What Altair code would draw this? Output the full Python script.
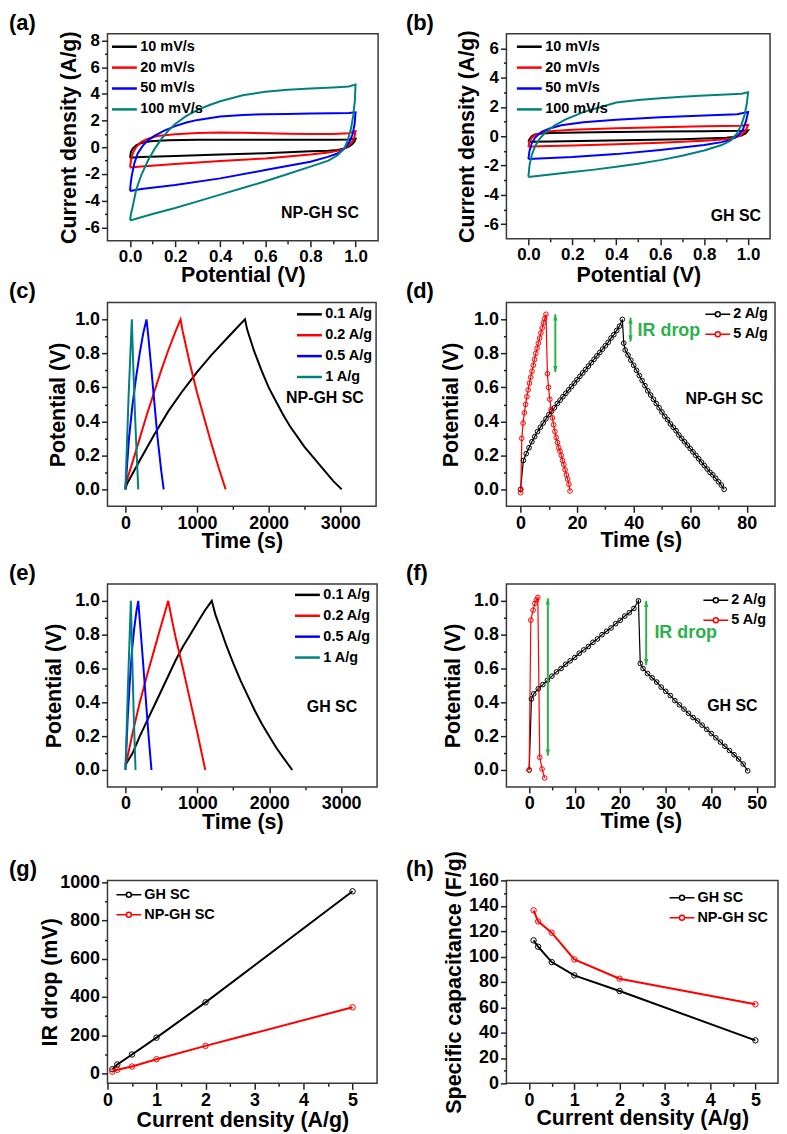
import altair as alt
import pandas as pd

FONT = "Liberation Sans"
BLACK, RED, BLUE, TEAL, GREEN = "#000000", "#FF0000", "#0000FF", "#008080", "#2AB24A"
TICK = "#222222"

# ---------------- (a) NP-GH SC cyclic voltammetry ----------------
a_names = ["10 mV/s", "20 mV/s", "50 mV/s", "100 mV/s"]
a10_x = [0, 0.004, 0.012, 0.027, 0.05, 0.09, 0.17, 0.3, 0.5, 0.7, 0.9, 0.97, 1.0, 0.995, 0.985, 0.97, 0.95, 0.92, 0.88, 0.8, 0.6, 0.4, 0.2, 0.05, 0]
a10_y = [-0.79, -0.35, -0.1, 0.15, 0.32, 0.45, 0.52, 0.56, 0.56, 0.56, 0.57, 0.59, 0.64, 0.42, 0.22, 0.05, -0.1, -0.2, -0.26, -0.3, -0.45, -0.55, -0.65, -0.73, -0.79]
a20_x = [0, 0.002, 0.005, 0.012, 0.027, 0.05, 0.08, 0.12, 0.2, 0.3, 0.4, 0.5, 0.6, 0.7, 0.8, 0.9, 0.97, 1.0, 0.995, 0.985, 0.97, 0.95, 0.92, 0.88, 0.8, 0.6, 0.4, 0.2, 0.05, 0]
a20_y = [-1.51, -1.25, -0.9, -0.45, 0.02, 0.4, 0.64, 0.84, 0.97, 1.06, 1.1, 1.09, 1.05, 1.02, 1.0, 1.0, 1.05, 1.2, 0.75, 0.4, 0.15, -0.1, -0.27, -0.4, -0.55, -0.84, -1.02, -1.26, -1.44, -1.51]
a50_x = [0, 0.003, 0.007, 0.019, 0.034, 0.056, 0.078, 0.108, 0.152, 0.2, 0.25, 0.3, 0.4, 0.5, 0.6, 0.7, 0.8, 0.9, 0.97, 1.0, 0.996, 0.988, 0.973, 0.951, 0.92, 0.877, 0.8, 0.6, 0.4, 0.2, 0.05, 0]
a50_y = [-3.27, -2.7, -2.2, -1.22, -0.47, 0.1, 0.5, 0.85, 1.25, 1.58, 1.85, 2.05, 2.3, 2.42, 2.48, 2.5, 2.53, 2.55, 2.57, 2.62, 1.76, 1.01, 0.4, -0.1, -0.47, -0.72, -1.09, -1.71, -2.33, -2.83, -3.12, -3.27]
a100_x = [0, 0.004, 0.012, 0.027, 0.05, 0.08, 0.11, 0.14, 0.17, 0.2, 0.25, 0.3, 0.35, 0.4, 0.5, 0.6, 0.7, 0.8, 0.9, 0.97, 1.0, 0.997, 0.99, 0.98, 0.965, 0.95, 0.92, 0.88, 0.8, 0.7, 0.6, 0.5, 0.4, 0.3, 0.2, 0.1, 0]
a100_y = [-5.48, -5.0, -4.44, -3.2, -2.08, -0.97, -0.1, 0.65, 1.25, 1.75, 2.35, 2.8, 3.15, 3.45, 3.9, 4.15, 4.3, 4.4, 4.48, 4.55, 4.7, 3.5, 2.4, 1.4, 0.5, -0.1, -0.6, -1.0, -1.45, -2.0, -2.55, -3.05, -3.55, -4.05, -4.55, -5.0, -5.48]

# ---------------- (b) GH SC cyclic voltammetry ----------------
b10_x = [0, 0.005, 0.015, 0.03, 0.06, 0.1, 0.3, 0.6, 0.8, 0.97, 1.0, 0.99, 0.97, 0.93, 0.9, 0.7, 0.5, 0.3, 0.1, 0]
b10_y = [-0.37, -0.2, 0.0, 0.12, 0.18, 0.22, 0.27, 0.32, 0.35, 0.37, 0.4, 0.2, 0.05, -0.05, -0.1, -0.2, -0.25, -0.3, -0.35, -0.37]
b20_x = [0, 0.005, 0.015, 0.03, 0.06, 0.1, 0.2, 0.4, 0.6, 0.8, 0.97, 1.0, 0.99, 0.97, 0.94, 0.9, 0.8, 0.6, 0.4, 0.2, 0.05, 0]
b20_y = [-0.71, -0.4, -0.1, 0.1, 0.25, 0.35, 0.45, 0.55, 0.62, 0.68, 0.72, 0.78, 0.4, 0.1, -0.1, -0.2, -0.3, -0.45, -0.55, -0.63, -0.69, -0.71]
b50_x = [0, 0.005, 0.015, 0.03, 0.06, 0.1, 0.15, 0.25, 0.4, 0.6, 0.8, 0.95, 1.0, 0.99, 0.975, 0.95, 0.92, 0.88, 0.8, 0.6, 0.4, 0.2, 0.05, 0]
b50_y = [-1.56, -1.0, -0.5, -0.1, 0.3, 0.55, 0.75, 0.95, 1.13, 1.3, 1.42, 1.5, 1.65, 1.0, 0.4, 0.0, -0.25, -0.4, -0.6, -0.94, -1.22, -1.42, -1.52, -1.56]
b100_x = [0, 0.005, 0.015, 0.03, 0.05, 0.08, 0.12, 0.17, 0.25, 0.33, 0.4, 0.5, 0.6, 0.7, 0.8, 0.9, 0.97, 1.0, 0.995, 0.985, 0.97, 0.95, 0.92, 0.88, 0.8, 0.7, 0.6, 0.5, 0.4, 0.3, 0.2, 0.1, 0]
b100_y = [-2.78, -2.0, -1.3, -0.7, -0.2, 0.3, 0.75, 1.15, 1.65, 2.0, 2.3, 2.47, 2.6, 2.7, 2.78, 2.85, 2.9, 3.0, 2.3, 1.5, 0.8, 0.2, -0.3, -0.6, -0.97, -1.33, -1.63, -1.88, -2.09, -2.28, -2.44, -2.62, -2.78]

# ---------------- (c) NP-GH SC charge/discharge ----------------
gcd_names = ["0.1 A/g", "0.2 A/g", "0.5 A/g", "1 A/g"]
c01_x = [0, 20, 200, 400, 600, 800, 1000, 1200, 1400, 1600, 1670, 1700, 1800, 1900, 2000, 2100, 2200, 2300, 2400, 2500, 2600, 2700, 2800, 2900, 3020]
c01_y = [0.0, 0.03, 0.17, 0.32, 0.46, 0.58, 0.69, 0.79, 0.88, 0.97, 1.0, 0.94, 0.81, 0.7, 0.6, 0.52, 0.44, 0.37, 0.31, 0.25, 0.2, 0.15, 0.1, 0.05, 0.0]
c02_x = [0, 10, 100, 200, 300, 400, 500, 600, 700, 770, 800, 900, 1000, 1100, 1200, 1300, 1400]
c02_y = [0.0, 0.04, 0.16, 0.3, 0.44, 0.57, 0.7, 0.82, 0.93, 1.0, 0.93, 0.74, 0.57, 0.42, 0.27, 0.13, 0.0]
c05_x = [0, 50, 100, 150, 200, 250, 295, 320, 360, 400, 450, 500, 535]
c05_y = [0, 0.3, 0.5, 0.66, 0.8, 0.92, 1.0, 0.9, 0.72, 0.53, 0.3, 0.11, 0.0]
c1_x = [0, 45, 90, 110, 140, 180]
c1_y = [0, 0.55, 1.0, 0.72, 0.38, 0.0]

# ---------------- (e) GH SC charge/discharge ----------------
e01_x = [0, 100, 200, 300, 400, 500, 600, 700, 800, 900, 1000, 1100, 1200, 1250, 1300, 1400, 1500, 1600, 1700, 1800, 1900, 2000, 2100, 2200, 2320]
e01_y = [0.03, 0.1, 0.2, 0.29, 0.38, 0.47, 0.56, 0.65, 0.73, 0.8, 0.87, 0.94, 1.0, 0.92, 0.86, 0.74, 0.63, 0.53, 0.44, 0.35, 0.27, 0.2, 0.13, 0.07, 0.0]
e02_x = [0, 50, 100, 200, 300, 400, 500, 595, 650, 700, 800, 900, 1000, 1110]
e02_y = [0.02, 0.12, 0.22, 0.4, 0.56, 0.71, 0.86, 1.0, 0.88, 0.78, 0.6, 0.41, 0.22, 0.0]
e05_x = [0, 30, 60, 90, 120, 150, 178, 200, 230, 260, 290, 320, 362]
e05_y = [0, 0.3, 0.52, 0.7, 0.83, 0.93, 1.0, 0.88, 0.72, 0.55, 0.38, 0.21, 0.0]
e1_x = [0, 35, 75, 95, 115, 140]
e1_y = [0, 0.5, 1.0, 0.65, 0.33, 0.0]

# ---------------- (d) NP-GH SC at 2 and 5 A/g ----------------
hi_names = ["2 A/g", "5 A/g"]
d2_t = [0, 1, 2, 3, 4, 5, 6, 7, 8, 9, 10, 11, 12, 13, 14, 15, 16, 17, 18, 19, 20, 21, 22, 23, 24, 25, 26, 27, 28, 29, 30, 31, 32, 33, 34, 35, 36,
        36.5, 37, 38, 39, 40, 41, 42, 43, 44, 45, 46, 47, 48, 49, 50, 51, 52, 53, 54, 55, 56, 57, 58, 59, 60, 61, 62, 63, 64, 65, 66, 67, 68, 69, 70, 71, 72]
d2_v = [0.0, 0.17, 0.21, 0.245, 0.28, 0.31, 0.34, 0.365, 0.39, 0.415, 0.44, 0.46, 0.48, 0.505, 0.525, 0.545, 0.565, 0.585, 0.605, 0.625,
        0.645, 0.665, 0.685, 0.705, 0.725, 0.745, 0.765, 0.785, 0.805, 0.825, 0.845, 0.865, 0.89, 0.91, 0.935, 0.96, 1.0,
        0.86, 0.82, 0.79, 0.76, 0.73, 0.7, 0.67, 0.64, 0.61, 0.58, 0.555, 0.53, 0.505, 0.48, 0.455, 0.43, 0.41, 0.385, 0.365, 0.345, 0.32,
        0.3, 0.28, 0.26, 0.24, 0.22, 0.2, 0.18, 0.16, 0.14, 0.12, 0.1, 0.085, 0.065, 0.045, 0.025, 0.0]
d5_t = [0, 0.1, 0.45, 0.9, 1.35, 1.8, 2.25, 2.7, 3.15, 3.6, 4.05, 4.5, 4.95, 5.4, 5.85, 6.3, 6.75, 7.2, 7.65, 8.1, 8.55, 9.0,
        9.5, 9.9, 10.35, 10.8, 11.25, 11.7, 12.15, 12.6, 13.05, 13.5, 13.95, 14.4, 14.85, 15.3, 15.75, 16.2, 16.65, 17.1, 17.5]
d5_v = [-0.02, 0.0, 0.3, 0.39, 0.45, 0.5, 0.545, 0.585, 0.625, 0.66, 0.695, 0.73, 0.765, 0.8, 0.83, 0.86, 0.89, 0.92, 0.95, 0.98, 1.005, 1.03,
        0.68, 0.6, 0.53, 0.47, 0.42, 0.38, 0.34, 0.305, 0.275, 0.245, 0.225, 0.2, 0.17, 0.145, 0.115, 0.085, 0.06, 0.03, -0.01]

# ---------------- (f) GH SC at 2 and 5 A/g ----------------
f2_t = [0, 0.5, 1, 2, 3, 4, 5, 6, 7, 8, 9, 10, 11, 12, 13, 14, 15, 16, 17, 18, 19, 20, 21, 22, 23, 24,
        24.4, 25, 26, 27, 28, 29, 30, 31, 32, 33, 34, 35, 36, 37, 38, 39, 40, 41, 42, 43, 44, 45, 46, 47, 48]
f2_v = [0.0, 0.42, 0.45, 0.48, 0.505, 0.53, 0.555, 0.58, 0.6, 0.625, 0.645, 0.665, 0.69, 0.71, 0.73, 0.755, 0.775, 0.8, 0.82, 0.84,
        0.865, 0.885, 0.91, 0.93, 0.955, 1.0,
        0.63, 0.6, 0.57, 0.545, 0.52, 0.49, 0.465, 0.44, 0.41, 0.385, 0.36, 0.335, 0.31, 0.29, 0.265, 0.24, 0.215, 0.19, 0.165, 0.14,
        0.115, 0.09, 0.065, 0.035, -0.005]
f5_t = [0, 0.36, 0.87, 1.25, 1.6, 1.9, 2.32, 2.83, 3.4]
f5_v = [0.0, 0.886, 0.945, 0.985, 1.005, 1.02, 0.075, 0.006, -0.047]

# ---------------- (g) IR drop, (h) specific capacitance ----------------
sc_names = ["GH SC", "NP-GH SC"]
density = [0.1, 0.2, 0.5, 1, 2, 5]
ir_gh = [22, 47, 99, 187, 372, 953]
ir_np = [9, 19, 36, 74, 144, 346]
cap_gh = [112.7, 107.7, 95.6, 85.1, 72.8, 33.9]
cap_np = [136.4, 127.7, 118.8, 97.7, 82.5, 62.3]

# double-headed "IR drop" arrows: (x, y_bottom, y_top)
arrows_d = [(12.3, 0.69, 1.03), (38.9, 0.87, 1.01)]
arrows_f = [(4.1, 0.085, 1.015), (25.7, 0.62, 1.0)]

# axis tick positions (major + minor)
x_tenths = [0.0, 0.1, 0.2, 0.3, 0.4, 0.5, 0.6, 0.7, 0.8, 0.9, 1.0]
y_a_vals = [-6, -5, -4, -3, -2, -1, 0, 1, 2, 3, 4, 5, 6, 7, 8]
y_b_vals = [-6, -5, -4, -3, -2, -1, 0, 1, 2, 3, 4, 5, 6]
x_ce_vals = [0, 500, 1000, 1500, 2000, 2500, 3000]
x_d_vals = [0, 10, 20, 30, 40, 50, 60, 70, 80]
x_f_vals = [0, 5, 10, 15, 20, 25, 30, 35, 40, 45, 50]
x_gh_vals = [0, 0.5, 1, 1.5, 2, 2.5, 3, 3.5, 4, 4.5, 5]
y_g_vals = [0, 100, 200, 300, 400, 500, 600, 700, 800, 900, 1000]
y_h_vals = [0, 10, 20, 30, 40, 50, 60, 70, 80, 90, 100, 110, 120, 130, 140, 150, 160]


def long_df(names, xs_list, ys_list):
    rows = []
    for name, xs, ys in zip(names, xs_list, ys_list):
        for i, (x, y) in enumerate(zip(xs, ys)):
            rows.append({"x": x, "y": y, "s": name, "o": i})
    return pd.DataFrame(rows)


def axis(values, minor, label, title, lsize, tx=None, ty=None):
    kw = dict(values=values, tickCount=1000, title=title, labelExpr=label,
              labelFontSize={"condition": {"test": minor, "value": 0}, "value": lsize},
              tickSize={"condition": {"test": minor, "value": 3}, "value": 6},
              labelOverlap=False, labelFlush=False, grid=False, domain=False)
    if tx is not None:
        kw["titleX"] = tx
    if ty is not None:
        kw["titleY"] = ty
    return alt.Axis(**kw)


TENTH_MINOR = "abs(round(datum.value*10)) % 2 == 1"
TENTH_LABEL = "abs(round(datum.value*10)) % 2 == 0 ? format(datum.value, '.1f') : ''"


def int_minor(step):
    return f"abs(datum.value) % {step} != 0"


def int_label(step):
    return f"abs(datum.value) % {step} == 0 ? '' + datum.value : ''"


def legend(lx, ly, sym):
    return alt.Legend(title=None, orient="none", legendX=lx, legendY=ly, symbolType=sym,
                      symbolSize=625, symbolStrokeWidth=2.5 if sym == "stroke" else 1.5,
                      labelFont=FONT, labelFontWeight="bold", labelFontSize=14.5, labelColor="black",
                      labelOffset=2, rowPadding=0, padding=0, symbolOffset=0)


LINE_CIRCLE = "M-1,0L-0.2,0M0.2,0L1,0M0.2,0A0.2,0.2,0,1,1,-0.2,0A0.2,0.2,0,1,1,0.2,0"


def panel_label(txt, dx):
    return alt.Chart(pd.DataFrame({"t": [txt]})).mark_text(
        font=FONT, fontWeight="bold", fontSize=22, align="left", baseline="top", color="black"
    ).encode(x=alt.value(dx), y=alt.value(-21), text="t:N")


def note(x, y, txt, xs, ys, size=16, color="black"):
    df = pd.DataFrame({"x": [x], "y": [y], "t": [txt]})
    return alt.Chart(df).mark_text(font=FONT, fontWeight="bold", fontSize=size, color=color,
                                   align="left", baseline="middle").encode(
        x=alt.X("x:Q", scale=xs), y=alt.Y("y:Q", scale=ys), text="t:N")


def arrows(spec, xs, ys):
    df = pd.DataFrame({"x": [a[0] for a in spec], "y": [a[1] for a in spec], "y2": [a[2] for a in spec]})
    rule = alt.Chart(df).mark_rule(color=GREEN, strokeWidth=2).encode(
        x=alt.X("x:Q", scale=xs), y=alt.Y("y:Q", scale=ys), y2="y2:Q")
    up = alt.Chart(df).mark_point(shape="M0,-1L0.7,1L-0.7,1Z", filled=True, size=40, color=GREEN, opacity=1,
                                  yOffset=3).encode(x=alt.X("x:Q", scale=xs), y=alt.Y("y2:Q", scale=ys))
    dn = alt.Chart(df).mark_point(shape="M0,1L0.7,-1L-0.7,-1Z", filled=True, size=40, color=GREEN, opacity=1,
                                  yOffset=-3).encode(x=alt.X("x:Q", scale=xs), y=alt.Y("y:Q", scale=ys))
    return [rule, up, dn]


def line_panel(df, names, colors, xs, ys, xax, yax, leg, w, h, extra, label, dx, points=False, sw=2, psize=22):
    color = alt.Color("s:N", scale=alt.Scale(domain=names, range=colors), legend=leg)
    base = alt.Chart(df).encode(
        x=alt.X("x:Q", scale=xs, axis=xax),
        y=alt.Y("y:Q", scale=ys, axis=yax),
        color=color, order="o:Q")
    layers = [base.mark_line(strokeWidth=sw)]
    if points:
        layers.append(base.mark_point(filled=False, size=psize, strokeWidth=1, opacity=1))
    layers += extra
    layers.append(panel_label(label, dx))
    return alt.layer(*layers).properties(width=w, height=h)


def spacer(h):
    return alt.Chart(pd.DataFrame({"v": [0]})).mark_point(opacity=0).encode(
        x=alt.value(0), y=alt.value(0)
    ).properties(width=1, height=h, view=alt.ViewBackground(strokeOpacity=0))


# ---------- panels a, b ----------
xs_ab = alt.Scale(domain=[-0.1, 1.1], nice=False, zero=False)
ys_a = alt.Scale(domain=[-7, 8.5], nice=False, zero=False)
ys_b = alt.Scale(domain=[-7, 7], nice=False, zero=False)
cv_colors = [BLACK, RED, BLUE, TEAL]

df_a = long_df(a_names, [a10_x, a20_x, a50_x, a100_x], [a10_y, a20_y, a50_y, a100_y])
pa = line_panel(df_a, a_names, cv_colors, xs_ab, ys_a,
                axis(x_tenths, TENTH_MINOR, TENTH_LABEL, "Potential (V)", 17, ty=24),
                axis(y_a_vals, int_minor(2), int_label(2), "Current density (A/g)", 17, tx=-27),
                legend(3, -1, "stroke"), 272, 208,
                [note(0.67, -4.93, "NP-GH SC", xs_ab, ys_a)], "(a)", -99)

df_b = long_df(a_names, [b10_x, b20_x, b50_x, b100_x], [b10_y, b20_y, b50_y, b100_y])
pb = line_panel(df_b, a_names, cv_colors, xs_ab, ys_b,
                axis(x_tenths, TENTH_MINOR, TENTH_LABEL, "Potential (V)", 17, ty=26),
                axis(y_b_vals, int_minor(2), int_label(2), "Current density (A/g)", 17, tx=-28),
                legend(9, -1, "stroke"), 265, 206,
                [note(0.83, -5.43, "GH SC", xs_ab, ys_b)], "(b)", -101)

# ---------- panels c, e ----------
xs_ce = alt.Scale(domain=[-250, 3500], nice=False, zero=False)
ys_v = alt.Scale(domain=[-0.1, 1.1], nice=False, zero=False)
gcd_colors = [BLACK, RED, BLUE, TEAL]

df_c = long_df(gcd_names, [c01_x, c02_x, c05_x, c1_x], [c01_y, c02_y, c05_y, c1_y])
pc = line_panel(df_c, gcd_names, gcd_colors, xs_ce, ys_v,
                axis(x_ce_vals, int_minor(1000), int_label(1000), "Time (s)", 18, ty=24),
                axis(x_tenths, TENTH_MINOR, TENTH_LABEL, "Potential (V)", 18, tx=-38),
                legend(189, -2, "stroke"), 270, 205,
                [note(2243, 0.54, "NP-GH SC", xs_ce, ys_v)], "(c)", -99)

df_e = long_df(gcd_names, [e01_x, e02_x, e05_x, e1_x], [e01_y, e02_y, e05_y, e1_y])
pe = line_panel(df_e, gcd_names, gcd_colors, xs_ce, ys_v,
                axis(x_ce_vals, int_minor(1000), int_label(1000), "Time (s)", 18, ty=25),
                axis(x_tenths, TENTH_MINOR, TENTH_LABEL, "Potential (V)", 18, tx=-42),
                legend(187, -3, "stroke"), 271, 204,
                [note(2522, 0.37, "GH SC", xs_ce, ys_v)], "(e)", -99)

# ---------- panels d, f ----------
xs_d = alt.Scale(domain=[-5, 90], nice=False, zero=False)
xs_f = alt.Scale(domain=[-5, 54], nice=False, zero=False)

df_d = long_df(hi_names, [d2_t, d5_t], [d2_v, d5_v])
pd_ = line_panel(df_d, hi_names, [BLACK, RED], xs_d, ys_v,
                 axis(x_d_vals, int_minor(20), int_label(20), "Time (s)", 18, ty=23.5),
                 axis(x_tenths, TENTH_MINOR, TENTH_LABEL, "Potential (V)", 18, tx=-44),
                 legend(199, -1.5, LINE_CIRCLE), 270, 205,
                 [note(58.3, 0.534, "NP-GH SC", xs_d, ys_v), note(41.4, 0.93, "IR drop", xs_d, ys_v, 18, GREEN)]
                 + arrows(arrows_d, xs_d, ys_v), "(d)", -101, points=True, sw=1.2)

df_f = long_df(hi_names, [f2_t, f5_t], [f2_v, f5_v])
pf = line_panel(df_f, hi_names, [BLACK, RED], xs_f, ys_v,
                axis(x_f_vals, int_minor(10), int_label(10), "Time (s)", 18, ty=24),
                axis(x_tenths, TENTH_MINOR, TENTH_LABEL, "Potential (V)", 18, tx=-42),
                legend(197, 3, LINE_CIRCLE), 270, 204,
                [note(39.1, 0.38, "GH SC", xs_f, ys_v), note(27.5, 0.81, "IR drop", xs_f, ys_v, 18, GREEN)]
                + arrows(arrows_f, xs_f, ys_v), "(f)", -101, points=True, sw=1.2)

# ---------- panels g, h ----------
xs_g = alt.Scale(domain=[0, 5.5], nice=False, zero=False)
xs_h = alt.Scale(domain=[-0.5, 5.5], nice=False, zero=False)
ys_g = alt.Scale(domain=[-52, 1010], nice=False, zero=False)
ys_h = alt.Scale(domain=[0, 160], nice=False, zero=False)

df_g = long_df(sc_names, [density, density], [ir_gh, ir_np])
pg = line_panel(df_g, sc_names, [BLACK, RED], xs_g, ys_g,
                axis(x_gh_vals, "datum.value % 1 != 0", "datum.value % 1 == 0 ? '' + datum.value : ''",
                     "Current density (A/g)", 18, ty=26),
                axis(y_g_vals, int_minor(200), int_label(200), "IR drop (mV)", 18, tx=-46),
                legend(8, 1, LINE_CIRCLE), 271, 204, [], "(g)", -99, points=True, sw=2, psize=30)

df_h = long_df(sc_names, [density, density], [cap_gh, cap_np])
ph = line_panel(df_h, sc_names, [BLACK, RED], xs_h, ys_h,
                axis(x_gh_vals, "datum.value % 1 != 0", "datum.value % 1 == 0 ? '' + datum.value : ''",
                     "Current density (A/g)", 18, ty=24),
                axis(y_h_vals, int_minor(20), int_label(20), "Specific capacitance (F/g)", 18, tx=-41),
                legend(163, 4, LINE_CIRCLE), 273, 204, [], "(h)", -101, points=True, sw=2, psize=30)

chart = alt.concat(
    pa, pb,
    spacer(62), spacer(62),
    pc, pd_,
    spacer(78), spacer(78),
    pe, pf,
    spacer(94), spacer(94),
    pg, ph,
    columns=2, spacing={"row": 0, "column": 129}, bounds="flush"
).resolve_scale(
    color="independent", x="independent", y="independent"
).resolve_legend(color="independent").properties(padding=0).configure_view(
    stroke="#3a3a3a", strokeWidth=1.5
).configure_axis(
    labelFont=FONT, labelFontWeight="bold", labelColor="black", labelPadding=2, labelOverlap=False,
    titleFont=FONT, titleFontWeight="bold", titleFontSize=21.5, titleColor="black",
    tickColor=TICK, tickWidth=1.5, grid=False, domain=False
).configure_legend(
    labelFont=FONT, labelFontWeight="bold", labelColor="black"
)

chart.save("out.html", embed_options={"renderer": "svg", "actions": False})
